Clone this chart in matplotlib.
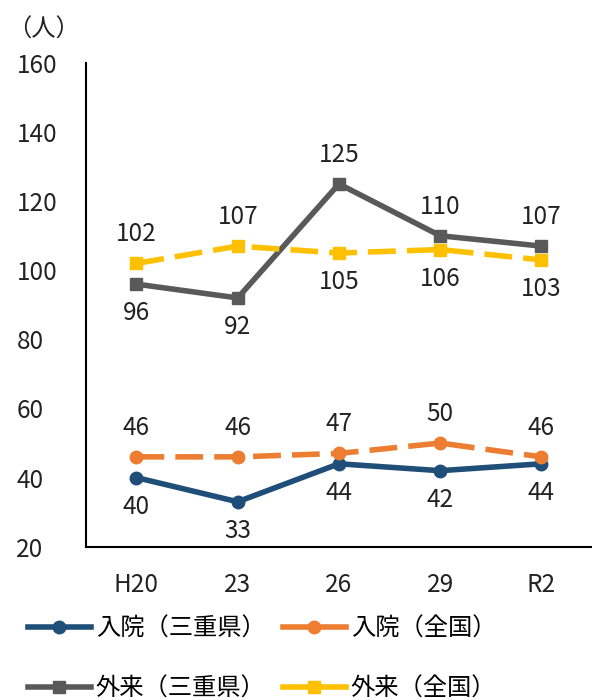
import matplotlib
matplotlib.use('agg')
import matplotlib.pyplot as plt

plt.rcParams['font.family'] = ['Noto Sans CJK JP', 'DejaVu Sans']

# data
years = ["H20", "23", "26", "29", "R2"]
nyuin_mie = [40, 33, 44, 42, 44]
nyuin_zenkoku = [46, 46, 47, 50, 46]
gairai_mie = [96, 92, 125, 110, 107]
gairai_zenkoku = [102, 107, 105, 106, 103]

# label above (+1) or below (-1) each point
pos_nyuin_mie = [-1, -1, -1, -1, -1]
pos_nyuin_zenkoku = [1, 1, 1, 1, 1]
pos_gairai_mie = [-1, -1, 1, 1, 1]
pos_gairai_zenkoku = [1, 1, -1, -1, -1]

fig = plt.figure(figsize=(5.92, 7.0), dpi=100)
ax = fig.add_axes([0.145, 0.219, 0.855, 0.691])

x = list(range(len(years)))
dash = (0, (5, 2))
series = [
    ("入院（三重県）", nyuin_mie, "#1F4E79", "-", "o", pos_nyuin_mie),
    ("入院（全国）", nyuin_zenkoku, "#ED7D31", dash, "o", pos_nyuin_zenkoku),
    ("外来（三重県）", gairai_mie, "#595959", "-", "s", pos_gairai_mie),
    ("外来（全国）", gairai_zenkoku, "#FFC000", dash, "s", pos_gairai_zenkoku),
]

handles = []
for name, vals, col, ls, mk, pos in series:
    ax.plot(x, vals, color=col, linestyle=ls, linewidth=4,
            marker=mk, markersize=9, zorder=3)
    h, = ax.plot([], [], color=col, linestyle="-", linewidth=4,
                 marker=mk, markersize=9, label=name)
    handles.append(h)
    for xi, v, p in zip(x, vals, pos):
        ax.annotate(str(v), (xi, v), xytext=(0, 21 * p), textcoords="offset points",
                    ha="center", va="center", fontsize=17.5, color="#222222")

ax.set_xlim(-0.5, 4.5)
ax.set_ylim(20, 160)
ax.set_yticks(range(20, 161, 20))
ax.set_xticks(x)
ax.set_xticklabels(years)
ax.tick_params(length=0, labelsize=17.5, colors="#222222")
ax.tick_params(axis="x", pad=18)
ax.tick_params(axis="y", pad=50)
for lab in ax.get_yticklabels():
    lab.set_horizontalalignment("left")
for s in ["top", "right"]:
    ax.spines[s].set_visible(False)
for s in ["left", "bottom"]:
    ax.spines[s].set_linewidth(1.5)
    ax.spines[s].set_color("black")

fig.text(0.012, 0.958, "（人）", fontsize=17.5, color="#222222", va="center")

# row-wise legend order
order = [0, 2, 1, 3]
fig.legend(handles=[handles[i] for i in order], loc="lower left",
           bbox_to_anchor=(0.01, -0.033),
           ncol=2, frameon=False, fontsize=17.5, handlelength=2.6,
           handletextpad=0.2, columnspacing=0.7, labelspacing=1.4)

fig.savefig("out.png", dpi=100)
